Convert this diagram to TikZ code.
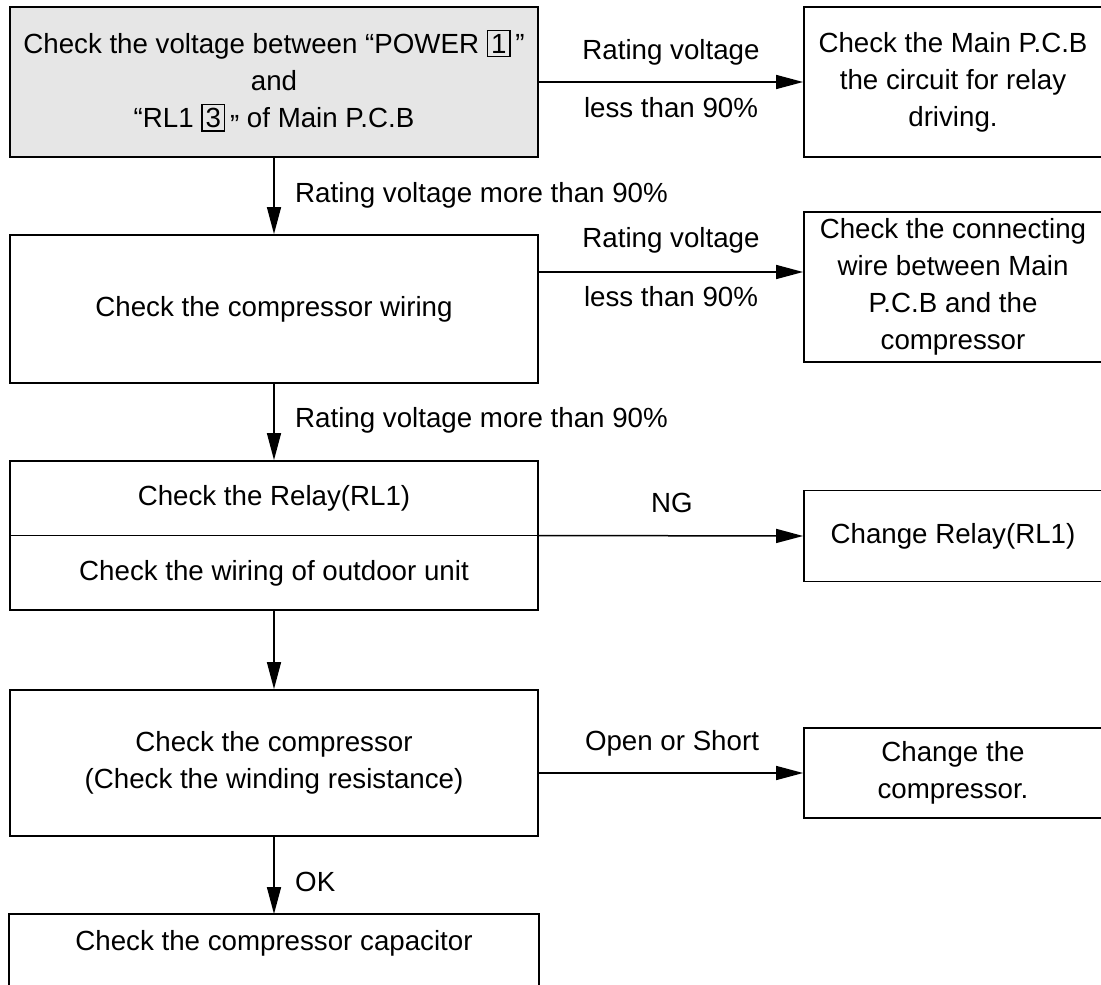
\documentclass[tikz,border=0pt]{standalone}
\usepackage{fontspec}
\setmainfont{Liberation Sans}
\usetikzlibrary{arrows.meta}
\definecolor{boxgray}{RGB}{230,230,230}
\setlength{\fboxsep}{3pt}
\setlength{\fboxrule}{1.3pt}
\begin{document}
\begin{tikzpicture}[x=1pt,y=-1pt,
  every node/.style={font=\fontsize{27.7}{37}\selectfont, inner sep=0pt},
  stepbox/.style={draw=black, line width=1.8pt, align=center, minimum width=528pt},
  sidebox/.style={draw=black, line width=1.8pt, align=center, minimum width=298pt},
  flow/.style={line width=1.5pt, -{Triangle[length=27pt,width=14pt]}},
  rule/.style={line width=1.8pt}]
\useasboundingbox (0,0) rectangle (1101,985);
\clip (0,0) rectangle (1101,985);

% main column
\node[stepbox, fill=boxgray, minimum height=150pt] (b1) at (274,82)
  {Check the voltage between “POWER \fbox{1}\,”\\and\\“RL1 \fbox{3}\,\raisebox{-7pt}{”} of Main P.C.B};
\node[stepbox, minimum height=148pt] (b2) at (274,309) {Check the compressor wiring};
\node[stepbox, minimum height=149pt] (b3) at (274,535.5) {};
\draw[rule] (b3.west) -- (b3.east);
\node (b3a) at (274,498.5) {Check the Relay(RL1)};
\node (b3b) at (274,573) {Check the wiring of outdoor unit};
\node[stepbox, minimum height=146pt] (b4) at (274,763)
  {Check the compressor\\(Check the winding resistance)};
\node[stepbox, draw=none, minimum height=56pt] (b5) at (274,943) {Check the compressor capacitor};
\draw[rule] ([yshift=-50pt]b5.south west) -- (b5.north west) -- (b5.north east) -- ([yshift=-50pt]b5.south east);

% side column
\node[sidebox, minimum height=150pt] (r1) at (953,82)
  {Check the Main P.C.B\\the circuit for relay\\driving.};
\node[sidebox, minimum height=150pt] (r2) at (953,287)
  {Check the connecting\\wire between Main\\P.C.B and the\\compressor};
\node[sidebox, minimum height=91pt] (r3) at (953,536) {Change Relay(RL1)};
\node[sidebox, minimum height=90pt] (r4) at (953,773) {Change the\\compressor.};

% connectors
\coordinate (y2) at (0,272);
\coordinate (y4) at (0,773);
\draw[flow] (b1.south) -- (b2.north);
\draw[flow] (b2.south) -- (b3.north);
\draw[flow] (b3.south) -- (b4.north);
\draw[flow] (b4.south) -- (b5.north);
\draw[flow] (b1.east) -- (r1.west);
\draw[flow] (b2.east |- y2) -- (r2.west |- y2);
\draw[flow] (b3.east) -- (r3.west);
\draw[flow] (b4.east |- y4) -- (r4.west |- y4);

% connector labels
\node[anchor=west] (t12) at (295,195) {Rating voltage more than 90\%};
\node[anchor=west] (t23) at (295,420) {Rating voltage more than 90\%};
\node[anchor=west] (t45) at (295,882) {OK};
\node (t1a) at (671,52) {Rating voltage};
\node (t1b) at (671,108) {less than 90\%};
\node (t2a) at (671,240) {Rating voltage};
\node (t2b) at (671,297) {less than 90\%};
\node (t3) at (672,503) {NG};
\node (t4) at (672,743) {Open or Short};
\end{tikzpicture}
\end{document}
